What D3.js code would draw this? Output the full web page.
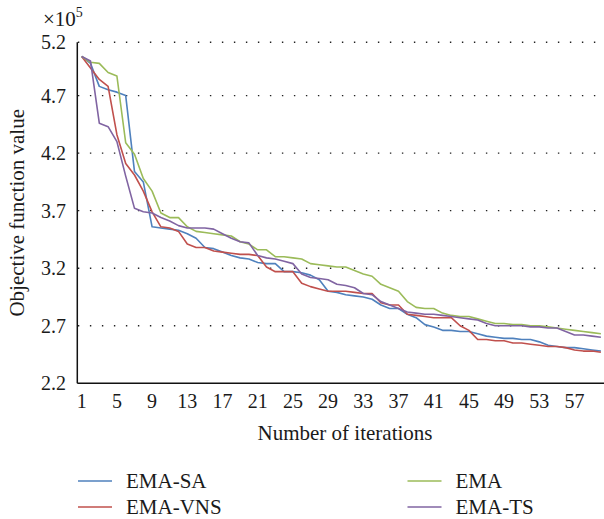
<!DOCTYPE html>
<html>
<head>
<meta charset="utf-8">
<script src="https://cdn.jsdelivr.net/npm/d3@7"></script>
<style>
  html, body { margin: 0; padding: 0; background: #fff; }
  svg { display: block; }
</style>
</head>
<body>
<svg id="chart" width="604" height="519" font-family="'Liberation Serif', 'DejaVu Serif', serif"></svg>
<script>
const iterations = d3.range(1, 61);
const xTickLabels = [1, 5, 9, 13, 17, 21, 25, 29, 33, 37, 41, 45, 49, 53, 57];
const yTickValues = [2.2, 2.7, 3.2, 3.7, 4.2, 4.7, 5.2];

const emaSA = [5.04, 4.98, 4.78, 4.75, 4.73, 4.70, 4.04, 3.95, 3.56, 3.55,
  3.54, 3.53, 3.50, 3.46, 3.38, 3.37, 3.34, 3.31, 3.29, 3.28,
  3.25, 3.24, 3.24, 3.17, 3.17, 3.16, 3.14, 3.10, 3.00, 2.99,
  2.97, 2.96, 2.95, 2.93, 2.88, 2.85, 2.85, 2.80, 2.77, 2.71,
  2.69, 2.66, 2.66, 2.65, 2.65, 2.63, 2.61, 2.60, 2.59, 2.59,
  2.58, 2.58, 2.56, 2.53, 2.52, 2.51, 2.51, 2.50, 2.49, 2.48];
const ema = [5.04, 4.99, 4.98, 4.90, 4.87, 4.29, 4.19, 3.98, 3.87, 3.68,
  3.64, 3.64, 3.56, 3.52, 3.51, 3.50, 3.49, 3.48, 3.43, 3.41,
  3.36, 3.36, 3.30, 3.30, 3.29, 3.28, 3.24, 3.23, 3.22, 3.21,
  3.21, 3.18, 3.15, 3.13, 3.06, 3.03, 3.00, 2.91, 2.86, 2.85,
  2.85, 2.81, 2.79, 2.78, 2.78, 2.76, 2.74, 2.72, 2.72, 2.71,
  2.71, 2.70, 2.70, 2.69, 2.68, 2.67, 2.66, 2.65, 2.64, 2.63];
const emaVNS = [5.04, 4.94, 4.84, 4.78, 4.36, 4.11, 4.01, 3.87, 3.69, 3.56,
  3.55, 3.52, 3.41, 3.38, 3.38, 3.35, 3.34, 3.33, 3.32, 3.32,
  3.31, 3.21, 3.17, 3.17, 3.17, 3.07, 3.04, 3.02, 3.00, 3.00,
  3.00, 2.99, 2.98, 2.98, 2.90, 2.88, 2.88, 2.80, 2.79, 2.78,
  2.77, 2.77, 2.77, 2.70, 2.66, 2.58, 2.58, 2.57, 2.57, 2.55,
  2.55, 2.54, 2.53, 2.52, 2.52, 2.51, 2.49, 2.48, 2.48, 2.47];
const emaTS = [5.04, 5.00, 4.46, 4.43, 4.30, 4.00, 3.72, 3.69, 3.68, 3.64,
  3.61, 3.57, 3.55, 3.55, 3.55, 3.54, 3.50, 3.46, 3.43, 3.42,
  3.31, 3.29, 3.28, 3.26, 3.24, 3.15, 3.12, 3.11, 3.10, 3.06,
  3.05, 3.03, 2.98, 2.97, 2.91, 2.88, 2.85, 2.82, 2.81, 2.80,
  2.80, 2.79, 2.78, 2.77, 2.76, 2.75, 2.72, 2.70, 2.70, 2.70,
  2.70, 2.69, 2.69, 2.68, 2.68, 2.65, 2.62, 2.62, 2.61, 2.60];

const seriesNames = ["EMA-SA", "EMA-VNS", "EMA", "EMA-TS"];
const seriesColors = ["#4F81BD", "#C0504D", "#9BBB59", "#8064A2"];
const seriesValues = [emaSA, emaVNS, ema, emaTS];

const svg = d3.select("#chart");
const pLeft = 77.3, pRight = 605.3, pTop = 42.3, pBottom = 383.3;
const textColor = "#1a1a1a";

const x = d3.scaleLinear().domain([0.5, 60.5]).range([pLeft, pRight]);
// top edge of plot corresponds to ~5.16 (labelled 5.2)
const yTop = 5.163;
const y = d3.scaleLinear().domain([2.2, yTop]).range([pBottom, pTop]);
const yPos = v => (v === 5.2 ? y(yTop) : y(v));

// gridlines (dotted)
svg.append("g").selectAll("line")
  .data(yTickValues.filter(v => v > 2.2))
  .join("line")
  .attr("x1", pLeft).attr("x2", 604)
  .attr("y1", d => yPos(d)).attr("y2", d => yPos(d))
  .attr("stroke", "#222")
  .attr("stroke-width", 1.4)
  .attr("stroke-dasharray", "1.4,10.6")
  .attr("stroke-dashoffset", -12.6);

// y tick labels
svg.append("g").selectAll("text")
  .data(yTickValues)
  .join("text")
  .attr("x", 66)
  .attr("y", d => yPos(d))
  .attr("dy", "0.35em")
  .attr("text-anchor", "end")
  .attr("font-size", 20)
  .attr("fill", textColor)
  .text(d => d3.format(".1f")(d));

// x tick labels
svg.append("g").selectAll("text")
  .data(xTickLabels)
  .join("text")
  .attr("x", d => x(d))
  .attr("y", 408)
  .attr("text-anchor", "middle")
  .attr("font-size", 20)
  .attr("fill", textColor)
  .text(d => d);

// lines
const line = d3.line()
  .x((d, i) => x(iterations[i]))
  .y(d => y(d));

svg.append("g").selectAll("path")
  .data(seriesValues)
  .join("path")
  .attr("d", d => line(d))
  .attr("fill", "none")
  .attr("stroke", (d, i) => seriesColors[i])
  .attr("stroke-width", 1.6)
  .attr("stroke-linejoin", "round");

// axes lines
svg.append("line")
  .attr("x1", pLeft).attr("x2", pLeft)
  .attr("y1", pTop).attr("y2", pBottom)
  .attr("stroke", "#111").attr("stroke-width", 1.5);
svg.append("line")
  .attr("x1", pLeft).attr("x2", 604)
  .attr("y1", pBottom).attr("y2", pBottom)
  .attr("stroke", "#111").attr("stroke-width", 1.5);

// ×10^5
const mult = svg.append("text").attr("x", 43).attr("y", 26).attr("font-size", 21).attr("fill", textColor);
mult.append("tspan").text("×10");
mult.append("tspan").attr("dy", -9).attr("font-size", 14).text("5");

// axis titles
svg.append("text")
  .attr("transform", `translate(24,${(pTop + pBottom) / 2}) rotate(-90)`)
  .attr("text-anchor", "middle")
  .attr("font-size", 21)
  .attr("fill", textColor)
  .text("Objective function value");

svg.append("text")
  .attr("x", 345).attr("y", 440)
  .attr("text-anchor", "middle")
  .attr("font-size", 21)
  .attr("fill", textColor)
  .text("Number of iterations");

// legend
const legendPos = [[78, 481], [78, 507], [407.5, 481], [407.5, 507]];
const lg = svg.append("g").selectAll("g")
  .data(seriesNames)
  .join("g")
  .attr("transform", (d, i) => `translate(${legendPos[i][0]},${legendPos[i][1]})`);
lg.append("line")
  .attr("x1", 0).attr("x2", 34)
  .attr("y1", 0).attr("y2", 0)
  .attr("stroke", (d, i) => seriesColors[i])
  .attr("stroke-width", 1.6);
lg.append("text")
  .attr("x", 48).attr("y", 0).attr("dy", "0.35em")
  .attr("font-size", 21)
  .attr("fill", textColor)
  .text(d => d);
</script>
</body>
</html>
